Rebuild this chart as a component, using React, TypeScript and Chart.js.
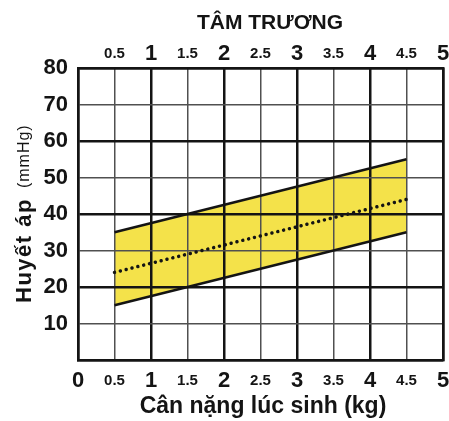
import React, { useEffect, useRef } from "react";
import { Chart, registerables } from "chart.js";

Chart.register(...registerables);

// ---- Data ----
const birthWeights = [0.5, 4.5]; // kg
const upperBound = [35, 55]; // mmHg
const medianLine = [24, 44]; // mmHg
const lowerBound = [15, 35]; // mmHg

const topTitle = "TÂM TRƯƠNG";
const xTitle = "Cân nặng lúc sinh (kg)";
const yTitleMain = "Huyết áp";
const yTitleUnit = "(mmHg)";

const X_MIN = 0;
const X_MAX = 5;
const X_STEP = 0.5;
const Y_MIN = 0;
const Y_MAX = 80;
const Y_STEP = 10;

const FONT = "'Liberation Sans', Arial, Helvetica, sans-serif";
const DARK = "#141414";
const THIN = "#505050";
const YELLOW = "#f4e24a";

const pts = (ys: number[]) => birthWeights.map((x, i) => ({ x, y: ys[i] }));

const isMajorX = (v: number) => Math.abs(v - Math.round(v)) < 1e-6;
const isMajorY = (v: number) => Math.round(v) % 20 === 0;

const xTickFont = (ctx: any) => {
  const v = ctx.tick ? ctx.tick.value : 0;
  return isMajorX(v)
    ? { family: FONT, size: 22, weight: "bold", lineHeight: "25px" }
    : { family: FONT, size: 15, weight: "bold", lineHeight: "25px" };
};

const textPlugin = {
  id: "customTexts",
  afterDraw(chart: any) {
    const ctx = chart.ctx;
    ctx.save();
    ctx.fillStyle = DARK;
    // top title
    ctx.font = `bold 21px ${FONT}`;
    ctx.textAlign = "center";
    ctx.textBaseline = "middle";
    ctx.fillText(topTitle, 270, 23);
    // bottom title
    ctx.font = `bold 23px ${FONT}`;
    ctx.fillText(xTitle, 263, 407);
    // y title rotated
    ctx.translate(31, 303);
    ctx.rotate(-Math.PI / 2);
    ctx.textAlign = "left";
    ctx.textBaseline = "alphabetic";
    ctx.font = `bold 22px ${FONT}`;
    (ctx as any).letterSpacing = "1.5px";
    ctx.fillText(yTitleMain, 0, 0);
    const w = ctx.measureText(yTitleMain).width;
    ctx.font = `16px ${FONT}`;
    (ctx as any).letterSpacing = "1px";
    ctx.fillText(yTitleUnit, w + 10, -2);
    ctx.restore();
  },
};

export default function App() {
  const canvasRef = useRef<HTMLCanvasElement | null>(null);

  useEffect(() => {
    document.body.style.margin = "0";
    const canvas = canvasRef.current;
    if (!canvas) return;
    const chart = new Chart(canvas, {
      type: "line",
      data: {
        datasets: [
          {
            label: "upper",
            data: pts(upperBound),
            borderColor: DARK,
            borderWidth: 2.5,
            backgroundColor: YELLOW,
            fill: "+2",
            pointRadius: 0,
          },
          {
            label: "median",
            data: pts(medianLine),
            borderColor: DARK,
            borderWidth: 3.5,
            borderDash: [0.01, 6],
            borderCapStyle: "round",
            fill: false,
            pointRadius: 0,
          },
          {
            label: "lower",
            data: pts(lowerBound),
            borderColor: DARK,
            borderWidth: 2.5,
            fill: false,
            pointRadius: 0,
          },
        ],
      },
      options: {
        animation: false,
        responsive: true,
        maintainAspectRatio: false,
        layout: { padding: 0 },
        plugins: {
          legend: { display: false },
          tooltip: { enabled: false },
          filler: { drawTime: "beforeDraw" } as any,
        },
        scales: {
          x: {
            type: "linear",
            position: "bottom",
            min: X_MIN,
            max: X_MAX,
            ticks: {
              stepSize: X_STEP,
              padding: 8,
              color: DARK,
              font: xTickFont as any,
              maxRotation: 0,
              autoSkip: false,
              callback: (v: any) => String(Number(v)),
            },
            grid: {
              drawTicks: false,
              color: (ctx: any) => (isMajorX(ctx.tick.value) ? DARK : THIN),
              lineWidth: (ctx: any) => (isMajorX(ctx.tick.value) ? 2.5 : 1.5),
            },
            border: { display: true, color: DARK, width: 2.5 },
            afterFit: (s: any) => {
              s.height = 61;
              s.paddingLeft = 0;
              s.paddingRight = 0;
            },
          },
          xTop: {
            type: "linear",
            position: "top",
            min: X_MIN,
            max: X_MAX,
            ticks: {
              stepSize: X_STEP,
              padding: 2,
              color: DARK,
              font: xTickFont as any,
              maxRotation: 0,
              autoSkip: false,
              callback: (v: any) => (Number(v) === 0 ? "" : String(Number(v))),
            },
            grid: { display: false, drawTicks: false },
            border: { display: true, color: DARK, width: 2.5 },
            afterFit: (s: any) => {
              s.height = 68;
              s.paddingLeft = 0;
              s.paddingRight = 0;
            },
          },
          y: {
            type: "linear",
            position: "left",
            min: Y_MIN,
            max: Y_MAX,
            ticks: {
              stepSize: Y_STEP,
              padding: 10,
              color: DARK,
              font: { family: FONT, size: 22, weight: "bold" },
              callback: (v: any) => (Number(v) === 0 ? "" : String(v)),
            },
            grid: {
              drawTicks: false,
              color: (ctx: any) => (isMajorY(ctx.tick.value) ? DARK : THIN),
              lineWidth: (ctx: any) => (isMajorY(ctx.tick.value) ? 2.5 : 1.5),
            },
            border: { display: true, color: DARK, width: 2.5 },
            afterFit: (s: any) => {
              s.width = 78;
            },
          },
          yRight: {
            type: "linear",
            position: "right",
            min: Y_MIN,
            max: Y_MAX,
            ticks: { display: false },
            grid: { display: false, drawTicks: false },
            border: { display: true, color: DARK, width: 2.5 },
            afterFit: (s: any) => {
              s.width = 6;
            },
          },
        },
      },
      plugins: [textPlugin],
    });
    return () => chart.destroy();
  }, []);

  return (
    <div style={{ position: "absolute", left: 0, top: 0, width: 449, height: 421, background: "#fff" }}>
      <canvas ref={canvasRef} />
    </div>
  );
}
